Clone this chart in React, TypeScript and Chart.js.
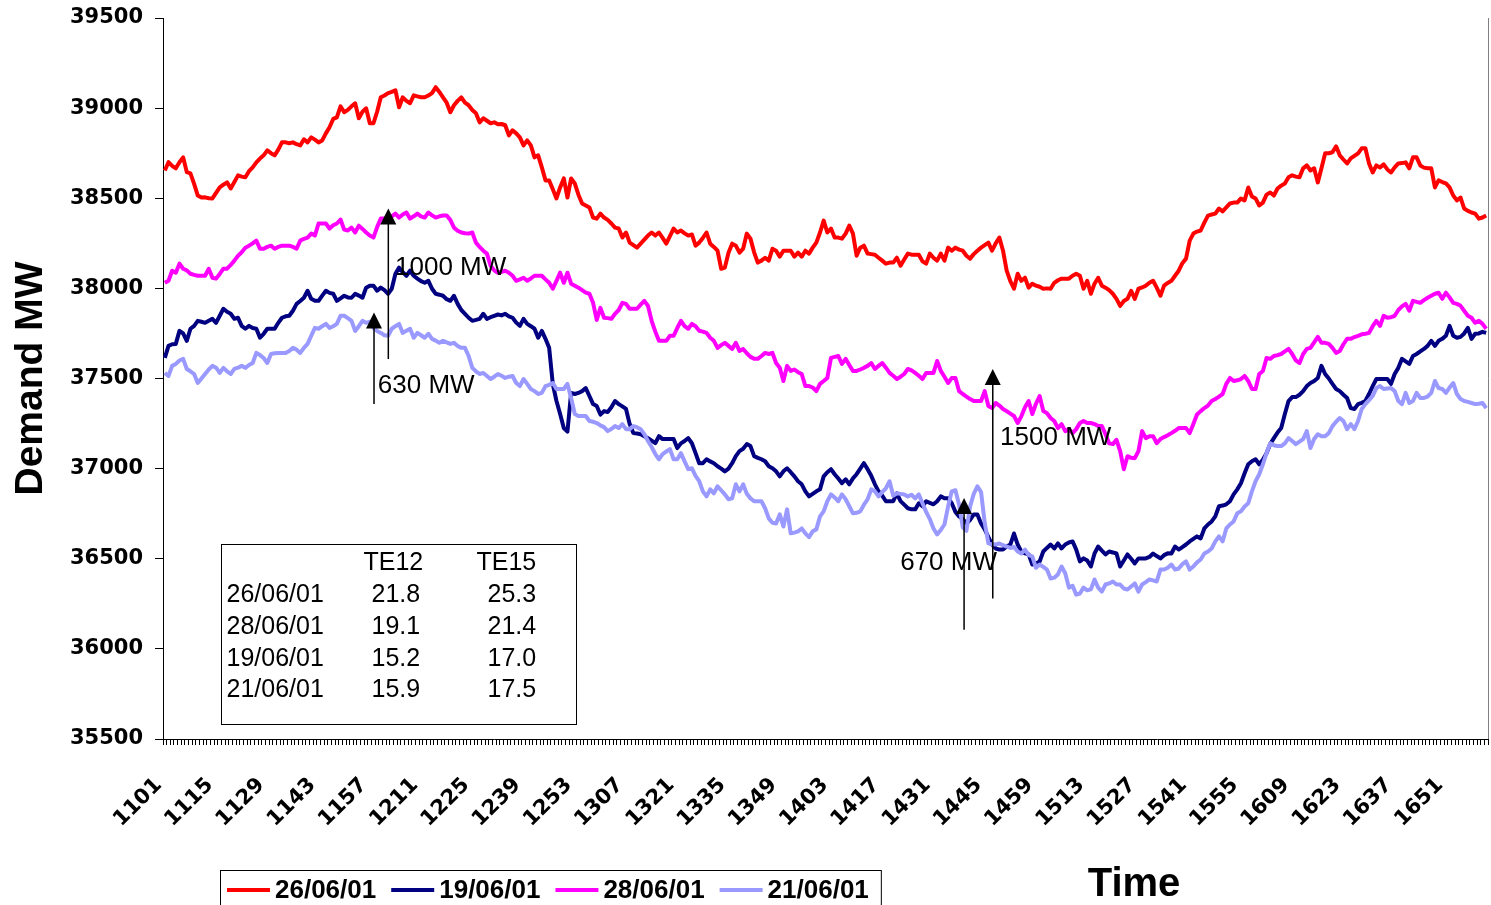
import React, { useEffect, useRef } from 'react';
import { Chart, registerables } from 'chart.js';

Chart.register(...registerables);

// ---------- categories (clock times, one per minute, 11:01 .. 17:02) ----------
const timeLabels: string[] = [];
for (let h = 11; h <= 17; h++) {
  for (let m = 0; m < 60; m++) {
    const t = h * 100 + m;
    if (t >= 1101 && t <= 1702) timeLabels.push(String(t));
  }
}
const LABEL_EVERY = 14;

// ---------- y axis ----------
const yMin = 35500;
const yMax = 39500;
const yStep = 500;

// ---------- series (MW) ----------
const demand2606 = [
  38654,38700,38680,38666,38700,38727,38645,38638,38580,38515,
  38504,38505,38500,38499,38530,38560,38575,38588,38554,38590,
  38627,38620,38616,38650,38671,38699,38720,38738,38766,38750,
  38738,38770,38810,38810,38805,38810,38800,38793,38827,38810,
  38838,38825,38810,38821,38860,38894,38940,38949,39010,38977,
  38990,39010,39027,38944,38980,38999,38916,38916,38980,39060,
  39070,39083,39090,39099,39005,39060,39040,39027,39071,39065,
  39060,39060,39070,39083,39116,39090,39060,39030,38977,39016,
  39040,39060,39030,39016,38990,38972,38921,38944,38930,38916,
  38921,38910,38912,38905,38849,38877,38860,38838,38793,38821,38793,
  38727,38738,38671,38599,38599,38550,38499,38560,38610,38504,
  38610,38582,38520,38471,38460,38449,38393,38387,38415,38393,
  38380,38360,38337,38332,38282,38310,38254,38240,38226,38248,
  38270,38293,38310,38293,38310,38280,38248,38290,38332,38310,
  38321,38305,38293,38299,38237,38254,38280,38310,38248,38230,
  38209,38109,38115,38198,38248,38237,38198,38220,38304,38276,
  38200,38143,38154,38170,38154,38220,38209,38176,38209,38209,
  38209,38176,38198,38176,38209,38193,38226,38254,38310,38376,
  38310,38332,38282,38282,38276,38304,38348,38304,38181,38226,
  38237,38193,38190,38187,38170,38154,38137,38143,38143,38170,
  38126,38160,38193,38187,38187,38187,38150,38137,38193,38170,
  38154,38193,38154,38226,38209,38226,38215,38209,38181,38165,
  38190,38209,38226,38240,38254,38209,38250,38282,38209,38098,
  38040,37998,38081,38042,38059,38004,38026,38015,38009,37998,
  38000,37998,38031,38045,38054,38054,38054,38070,38081,38070,
  37998,38042,37970,38026,38059,38015,38004,37990,37970,37942,
  37903,37930,37942,37987,37942,37998,38005,38015,38031,38042,
  38004,37959,38015,38030,38042,38070,38098,38140,38165,38265,38304,
  38315,38321,38365,38404,38410,38415,38443,38427,38449,38471,
  38476,38476,38499,38488,38560,38510,38499,38460,38476,38520,
  38532,38515,38554,38570,38582,38616,38627,38620,38616,38666,
  38682,38654,38666,38588,38666,38749,38750,38755,38788,38738,
  38715,38693,38721,38735,38749,38777,38777,38693,38643,38682,
  38671,38688,38660,38643,38671,38693,38695,38699,38666,38727,
  38727,38682,38670,38666,38666,38560,38599,38590,38582,38560,
  38515,38488,38504,38443,38430,38421,38415,38387,38393,38404,
];

const demand1906 = [
  37614,37681,37690,37692,37764,37750,37709,37776,37792,37820,
  37815,37809,37820,37831,37809,37848,37887,37870,37859,37831,
  37837,37792,37776,37792,37780,37776,37726,37748,37776,37776,
  37776,37809,37837,37845,37848,37876,37914,37930,37948,37987,
  37942,37931,37931,37960,37987,37975,37970,37931,37945,37959,
  37950,37948,37970,37960,37948,38004,38015,38015,37987,38004,
  37990,37970,37998,38081,38115,38090,38070,38098,38070,38054,
  38040,38031,38042,37998,37970,37965,37959,37940,37931,37959,
  37914,37880,37859,37837,37820,37825,37831,37859,37831,37840,
  37848,37855,37850,37859,37845,37837,37810,37792,37831,37803,37790,
  37776,37726,37764,37720,37670,37469,37375,37303,37225,37205,
  37420,37414,37420,37430,37447,37403,37358,37347,37300,37319,
  37314,37340,37375,37358,37345,37331,37247,37197,37195,37191,
  37180,37169,37155,37141,37180,37164,37164,37164,37164,37114,
  37140,37153,37169,37141,37086,37030,37030,37052,37040,37030,
  37013,37000,36985,37000,37030,37069,37097,37110,37136,37125,
  37069,37060,37052,37041,37013,37002,36985,36957,36985,37002,
  36980,36957,36930,36913,36874,36846,36860,36874,36885,36957,
  36980,36997,36969,36945,36919,36941,36913,36946,36969,37000,
  37030,36997,36960,36913,36874,36850,36819,36819,36819,36863,
  36820,36800,36780,36774,36774,36808,36791,36819,36810,36802,
  36819,36846,36835,36835,36808,36760,36735,36720,36696,36715,
  36746,36746,36696,36663,36620,36579,36557,36551,36551,36568,
  36579,36640,36579,36540,36530,36524,36468,36474,36485,36540,
  36560,36579,36557,36585,36557,36579,36590,36596,36551,36485,
  36502,36490,36457,36529,36568,36545,36524,36540,36535,36529,
  36457,36490,36524,36500,36474,36502,36502,36502,36510,36529,
  36515,36502,36520,36530,36529,36568,36551,36565,36579,36596,36610,
  36624,36613,36668,36690,36707,36735,36791,36795,36802,36819,
  36857,36885,36919,36974,37024,37041,37052,37024,37050,37086,
  37136,37169,37200,37225,37303,37375,37397,37397,37410,37430,
  37458,37475,37486,37503,37570,37525,37500,37470,37442,37430,
  37410,37392,37336,37331,37358,37365,37375,37414,37458,37497,
  37497,37497,37497,37470,37525,37559,37609,37595,37581,37625,
  37636,37650,37664,37681,37709,37681,37709,37720,37737,37792,
  37737,37726,37731,37750,37781,37720,37748,37750,37759,37753,
];

const demand2806 = [
  38031,38042,38098,38087,38137,38109,38100,38081,38075,38070,
  38070,38070,38109,38059,38054,38080,38109,38109,38130,38154,
  38181,38200,38226,38237,38250,38265,38220,38220,38230,38237,
  38220,38230,38237,38237,38237,38230,38220,38265,38275,38282,
  38304,38293,38360,38360,38360,38332,38350,38360,38382,38326,
  38321,38337,38310,38348,38330,38310,38293,38282,38340,38387,
  38387,38387,38400,38415,38393,38410,38421,38387,38400,38415,
  38400,38393,38421,38405,38393,38400,38404,38404,38380,38337,
  38320,38310,38306,38304,38310,38254,38230,38209,38193,38126,
  38100,38087,38092,38098,38087,38070,38042,38050,38059,38042,38055,
  38070,38070,38070,38050,38031,37998,38042,38087,38031,38087,
  38026,38015,38004,37990,37976,37970,37920,37825,37892,37837,
  37835,37831,37859,37880,37920,37914,37887,37887,37887,37910,
  37931,37903,37820,37760,37709,37709,37709,37737,37737,37780,
  37820,37790,37776,37803,37790,37765,37760,37753,37726,37709,
  37670,37685,37698,37681,37664,37698,37653,37664,37640,37620,
  37609,37609,37625,37642,37636,37642,37586,37560,37486,37570,
  37542,37550,37535,37525,37458,37458,37450,37430,37470,37486,
  37503,37614,37620,37625,37581,37609,37575,37542,37542,37550,
  37559,37570,37586,37553,37570,37586,37560,37531,37515,37497,
  37510,37525,37553,37545,37531,37515,37497,37531,37531,37531,
  37597,37542,37510,37475,37503,37503,37430,37414,37400,37386,
  37375,37375,37375,37430,37347,37336,37364,37350,37331,37319,
  37305,37292,37253,37290,37340,37375,37303,37360,37403,37320,
  37308,37281,37264,37225,37247,37208,37219,37197,37219,37253,
  37264,37253,37253,37247,37236,37236,37191,37140,37136,37160,
  37097,36997,37069,37060,37058,37097,37208,37169,37180,37180,
  37141,37164,37175,37185,37197,37210,37225,37225,37225,37197,37247,
  37300,37319,37336,37350,37375,37386,37400,37414,37470,37503,
  37486,37490,37497,37514,37486,37442,37442,37525,37542,37614,
  37609,37625,37630,37636,37650,37664,37636,37600,37586,37636,
  37664,37670,37700,37731,37698,37698,37692,37670,37642,37653,
  37690,37720,37720,37730,37737,37745,37748,37753,37790,37820,
  37792,37848,37837,37840,37848,37880,37900,37914,37876,37931,
  37925,37920,37935,37948,37959,37970,37976,37942,37976,37950,
  37920,37914,37903,37875,37848,37837,37809,37820,37803,37776,
];

const demand2106 = [
  37531,37514,37570,37581,37600,37609,37553,37540,37525,37475,
  37500,37525,37550,37570,37560,37531,37559,37540,37525,37553,
  37560,37570,37559,37575,37586,37642,37630,37614,37586,37636,
  37640,37642,37642,37642,37653,37670,37660,37642,37670,37692,
  37737,37781,37776,37790,37803,37781,37790,37803,37848,37848,
  37835,37820,37764,37790,37820,37809,37815,37781,37764,37753,
  37740,37737,37776,37790,37803,37753,37765,37776,37726,37753,
  37740,37726,37748,37720,37710,37698,37709,37700,37692,37698,
  37680,37670,37670,37625,37559,37540,37525,37531,37514,37497,
  37510,37525,37515,37503,37510,37514,37475,37458,37497,37470,37442,
  37430,37414,37420,37458,37465,37475,37442,37442,37442,37470,
  37392,37303,37292,37292,37292,37264,37260,37253,37240,37230,
  37208,37220,37236,37225,37247,37219,37219,37236,37230,37219,
  37191,37153,37120,37081,37052,37081,37095,37108,37052,37052,
  37086,37040,36997,37002,36960,36930,36874,36846,36885,36863,
  36902,36880,36857,36830,36835,36913,36874,36913,36860,36835,
  36819,36819,36819,36780,36724,36700,36696,36746,36679,36774,
  36641,36645,36652,36668,36641,36620,36652,36663,36735,36763,
  36819,36857,36840,36819,36857,36830,36791,36752,36755,36763,
  36800,36830,36885,36874,36846,36870,36891,36930,36850,36863,
  36860,36857,36846,36855,36835,36857,36808,36760,36720,36668,
  36635,36660,36690,36791,36874,36880,36800,36675,36655,36790,
  36860,36902,36870,36700,36585,36580,36579,36585,36575,36568,
  36560,36565,36540,36529,36551,36520,36513,36450,36468,36455,
  36440,36390,36395,36413,36457,36420,36340,36350,36301,36307,
  36340,36325,36330,36385,36340,36318,36357,36363,36374,36357,
  36357,36335,36329,36346,36363,36318,36357,36370,36385,36380,
  36374,36440,36440,36450,36468,36440,36446,36470,36485,36440,36457,
  36480,36496,36529,36540,36557,36596,36624,36596,36668,36690,
  36707,36752,36763,36790,36808,36874,36930,36969,37024,37086,
  37141,37130,37125,37125,37140,37169,37153,37136,37150,37164,
  37208,37114,37164,37191,37180,37180,37197,37236,37260,37281,
  37264,37219,37247,37219,37264,37331,37358,37380,37403,37447,
  37458,37442,37445,37447,37430,37375,37358,37420,37364,37375,
  37420,37392,37392,37400,37420,37486,37447,37442,37420,37450,
  37475,37414,37386,37375,37370,37364,37358,37360,37364,37336,
];

const seriesNames = ['26/06/01', '19/06/01', '28/06/01', '21/06/01'];
const seriesColors = ['#FF0000', '#000080', '#FF00FF', '#9999FF'];

// ---------- inset table ----------
const tableHeader = ['TE12', 'TE15'];
const tableDates = ['26/06/01', '28/06/01', '19/06/01', '21/06/01'];
const tableTE12 = ['21.8', '19.1', '15.2', '15.9'];
const tableTE15 = ['25.3', '21.4', '17.0', '17.5'];

// ---------- annotations (category index, MW) ----------
const arrowAt = [57.15, 61.06, 218.36, 226.2];
const arrowFrom = [37358, 37608, 36106, 36279];
const arrowTo = [37866, 38443, 36837, 37553];
const noteText = ['630 MW', '1000 MW', '670 MW', '1500 MW'];
const noteAt = [58.2, 62.9, 200.9, 228.2];
const noteValue = [37458, 38115, 36479, 37169];

const BOLD = '"Liberation Sans", Arial, sans-serif';
const WIDE = '"DejaVu Sans", Verdana, sans-serif';

const overlayPlugin = {
  id: 'overlay',
  afterDatasetsDraw(chart: any) {
    const { ctx, chartArea, scales } = chart;
    const xs = scales.x;
    const ys = scales.y;
    ctx.save();

    // right frame line
    ctx.strokeStyle = '#808080';
    ctx.lineWidth = 1;
    ctx.beginPath();
    ctx.moveTo(chartArea.right + 0.5, chartArea.top);
    ctx.lineTo(chartArea.right + 0.5, chartArea.bottom);
    ctx.stroke();

    // arrows
    ctx.strokeStyle = '#000';
    ctx.fillStyle = '#000';
    for (let k = 0; k < arrowAt.length; k++) {
      const x = xs.getPixelForValue(arrowAt[k]);
      const y0 = ys.getPixelForValue(arrowFrom[k]);
      const y1 = ys.getPixelForValue(arrowTo[k]);
      ctx.lineWidth = 1.5;
      ctx.beginPath();
      ctx.moveTo(x, y0);
      ctx.lineTo(x, y1 + 12);
      ctx.stroke();
      ctx.beginPath();
      ctx.moveTo(x, y1);
      ctx.lineTo(x - 8, y1 + 16);
      ctx.lineTo(x + 8, y1 + 16);
      ctx.closePath();
      ctx.fill();
    }

    // notes
    ctx.font = `26px ${BOLD}`;
    ctx.textBaseline = 'middle';
    ctx.textAlign = 'left';
    for (let k = 0; k < noteText.length; k++) {
      ctx.fillText(noteText[k], xs.getPixelForValue(noteAt[k]), ys.getPixelForValue(noteValue[k]));
    }

    // inset table
    const bl = Math.round(chartArea.left + 58) + 0.5;
    const bt = Math.round(chartArea.top + 526) + 0.5;
    const bw = 355;
    const bh = 180;
    ctx.fillStyle = '#fff';
    ctx.fillRect(bl, bt, bw, bh);
    ctx.strokeStyle = '#000';
    ctx.lineWidth = 1;
    ctx.strokeRect(bl, bt, bw, bh);
    ctx.fillStyle = '#000';
    ctx.font = `25px ${BOLD}`;
    ctx.textBaseline = 'middle';
    ctx.textAlign = 'left';
    ctx.fillText(tableHeader[0], bl + 142, bt + 19);
    ctx.fillText(tableHeader[1], bl + 255, bt + 19);
    for (let r = 0; r < tableDates.length; r++) {
      const y = bt + 51 + r * 31.7;
      ctx.fillText(tableDates[r], bl + 5, y);
      ctx.fillText(tableTE12[r], bl + 150, y);
      ctx.fillText(tableTE15[r], bl + 266, y);
    }
    ctx.restore();
  },
  afterDraw(chart: any) {
    const { ctx, chartArea } = chart;
    ctx.save();
    // axis title "Time"
    ctx.fillStyle = '#000';
    ctx.font = `bold 40px ${BOLD}`;
    ctx.textAlign = 'center';
    ctx.textBaseline = 'middle';
    ctx.fillText('Time', 1134, chartArea.bottom + 146);

    // legend
    const top = chartArea.bottom + 131;
    const cy = top + 20;
    ctx.font = `bold 26px ${BOLD}`;
    ctx.textAlign = 'left';
    let x = 227;
    const left = 220;
    chart.data.datasets.forEach((ds: any) => {
      ctx.strokeStyle = ds.borderColor;
      ctx.lineWidth = 4;
      ctx.beginPath();
      ctx.moveTo(x, cy);
      ctx.lineTo(x + 43, cy);
      ctx.stroke();
      ctx.fillStyle = '#000';
      ctx.fillText(ds.label, x + 48, cy + 1);
      x += 48 + ctx.measureText(ds.label).width + 15;
    });
    ctx.strokeStyle = '#000';
    ctx.lineWidth = 1;
    ctx.strokeRect(left + 0.5, top + 0.5, x - 3 - left, 60);
    ctx.restore();
  },
};

export default function App() {
  const canvasRef = useRef<HTMLCanvasElement | null>(null);

  useEffect(() => {
    if (!canvasRef.current) return;
    const seriesData = [demand2606, demand1906, demand2806, demand2106];
    const chart = new Chart(canvasRef.current, {
      type: 'line',
      data: {
        labels: timeLabels,
        datasets: seriesData.map((d, k) => ({
          label: seriesNames[k],
          data: d,
          borderColor: seriesColors[k],
          backgroundColor: seriesColors[k],
          borderWidth: 4,
          pointRadius: 0,
          tension: 0,
          fill: false,
          borderJoinStyle: 'round' as const,
          order: 3 - k,
        })),
      },
      options: {
        responsive: false,
        animation: false,
        devicePixelRatio: 1,
        layout: { padding: { top: 18, right: 3, left: 0, bottom: 0 } },
        plugins: {
          legend: { display: false },
          tooltip: { enabled: false },
          title: { display: false },
        },
        scales: {
          x: {
            type: 'category',
            offset: true,
            grid: {
              offset: true,
              drawOnChartArea: false,
              drawTicks: true,
              tickLength: 6,
              color: '#000',
              lineWidth: 1,
            },
            border: { display: true, color: '#000', width: 1 },
            ticks: {
              autoSkip: false,
              minRotation: 45,
              maxRotation: 45,
              padding: 28,
              labelOffset: -6,
              color: '#000',
              font: { family: WIDE, weight: 'bold', size: 21 },
              callback: (_v: any, i: number) => (i % LABEL_EVERY === 0 ? timeLabels[i] : ''),
            },
            afterFit: (s: any) => {
              s.height = 166;
              s.paddingLeft = 0;
              s.paddingRight = 0;
            },
          },
          y: {
            min: yMin,
            max: yMax,
            grid: {
              drawOnChartArea: false,
              drawTicks: true,
              tickLength: 8,
              color: '#000',
            },
            border: { display: true, color: '#000', width: 1 },
            ticks: {
              stepSize: yStep,
              padding: 12,
              color: '#000',
              font: { family: WIDE, weight: 'bold', size: 21 },
              callback: (v: any) => String(v),
            },
            title: {
              display: true,
              text: 'Demand MW',
              color: '#000',
              font: { family: BOLD, weight: 'bold', size: 39 },
              padding: { top: 8, bottom: 0 },
            },
            afterFit: (s: any) => {
              s.width = 163;
              s.paddingTop = 0;
              s.paddingBottom = 0;
            },
          },
        },
      },
      plugins: [overlayPlugin],
    });
    return () => chart.destroy();
  }, []);

  return (
    <div style={{ position: 'absolute', left: 0, top: 0, width: 1491, height: 905, background: '#fff' }}>
      <canvas ref={canvasRef} width={1491} height={905} style={{ display: 'block' }} />
    </div>
  );
}
